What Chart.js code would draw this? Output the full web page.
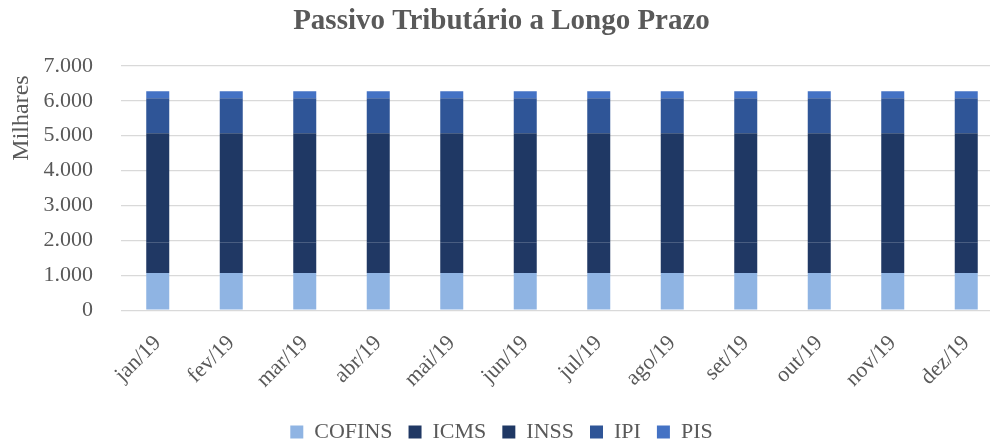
<!DOCTYPE html>
<html>
<head>
<meta charset="utf-8">
<script src="https://cdn.jsdelivr.net/npm/chart.js@4"></script>
<style>
  html, body { margin: 0; padding: 0; overflow: hidden; background: #fff; }
  #wrap { width: 1010px; height: 453px; position: relative; }
</style>
</head>
<body>
<div id="wrap"><canvas id="c"></canvas></div>
<script>
const categories = ['jan/19','fev/19','mar/19','abr/19','mai/19','jun/19','jul/19','ago/19','set/19','out/19','nov/19','dez/19'];
const cofins = [1070,1070,1070,1070,1070,1070,1070,1070,1070,1070,1070,1070];
const icms   = [880,880,880,880,880,880,880,880,880,880,880,880];
const inss   = [3120,3120,3120,3120,3120,3120,3120,3120,3120,3120,3120,3120];
const ipi    = [1000,1000,1000,1000,1000,1000,1000,1000,1000,1000,1000,1000];
const pis    = [200,200,200,200,200,200,200,200,200,200,200,200];
const yTicks = [0,1000,2000,3000,4000,5000,6000,7000];

const FONT = "'Liberation Serif', 'DejaVu Serif', serif";
const GRAY = '#595959';

function fmt(v){
  const s = String(Math.round(v));
  return s.replace(/\B(?=(\d{3})+(?!\d))/g, '.');
}

const yTitlePlugin = {
  id: 'yTitle',
  afterDraw(chart){
    const ctx = chart.ctx;
    ctx.save();
    ctx.translate(22, 118);
    ctx.rotate(-Math.PI/2);
    ctx.font = "24px " + FONT;
    ctx.fillStyle = GRAY;
    ctx.textAlign = 'center';
    ctx.textBaseline = 'middle';
    ctx.fillText('Milhares', 0, 0);
    ctx.restore();
  }
};

function ds(label, data, color){
  return { label, data, backgroundColor: color, borderWidth: 0,
           barPercentage: 0.313, categoryPercentage: 1.0 };
}

new Chart(document.getElementById('c'), {
  type: 'bar',
  data: {
    labels: categories,
    datasets: [
      ds('COFINS', cofins, '#8FB4E3'),
      ds('ICMS', icms, '#203864'),
      ds('INSS', inss, '#1F3864'),
      ds('IPI', ipi, '#2F5597'),
      ds('PIS', pis, '#4472C4')
    ]
  },
  options: {
    responsive: true,
    maintainAspectRatio: false,
    animation: false,
    layout: { padding: { left: 0, right: 7, top: 4, bottom: 0 } },
    plugins: {
      title: {
        display: true,
        text: 'Passivo Tributário a Longo Prazo',
        color: GRAY,
        font: { family: FONT, size: 29, weight: 'bold' },
        padding: { top: 0, bottom: 27 }
      },
      legend: {
        position: 'bottom',
        labels: {
          color: GRAY,
          font: { family: FONT, size: 22 },
          boxWidth: 13, boxHeight: 13,
          padding: 16
        }
      },
      tooltip: { enabled: false }
    },
    scales: {
      x: {
        stacked: true,
        grid: { display: false },
        border: { display: false },
        ticks: {
          color: GRAY,
          font: { family: FONT, size: 22 },
          minRotation: 45, maxRotation: 45,
          padding: 12
        }
      },
      y: {
        stacked: true,
        min: 0, max: 7000,
        afterBuildTicks(scale){ scale.ticks = yTicks.map(v => ({ value: v })); },
        afterFit(scale){ scale.width = 121; },
        grid: { color: '#D9D9D9', lineWidth: 1.3, drawTicks: false },
        border: { display: false },
        ticks: {
          color: GRAY,
          font: { family: FONT, size: 22 },
          padding: 28,
          callback: (v) => fmt(v)
        }
      }
    }
  },
  plugins: [yTitlePlugin]
});
</script>
</body>
</html>
